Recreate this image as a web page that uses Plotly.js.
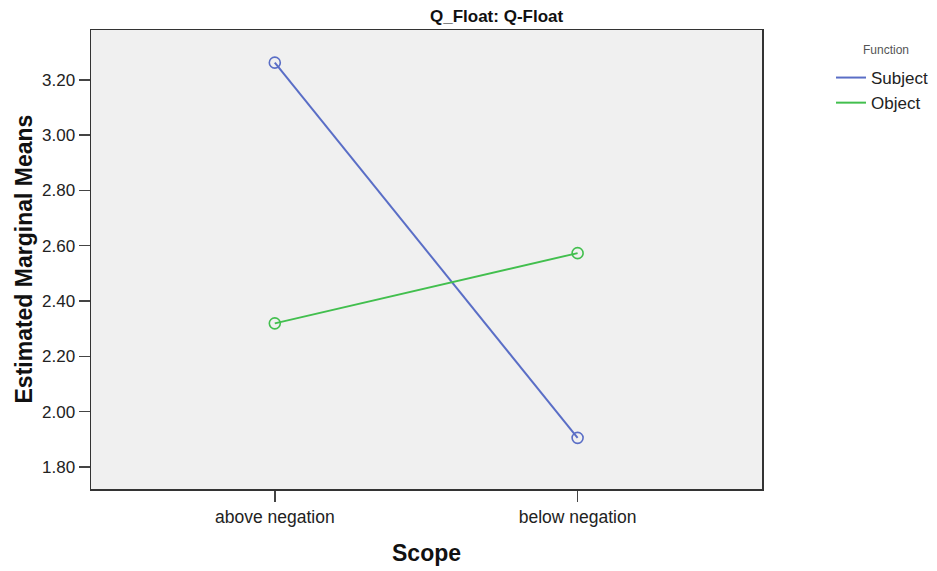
<!DOCTYPE html>
<html>
<head>
<meta charset="utf-8">
<script src="https://cdn.plot.ly/plotly-3.0.1.min.js"></script>
<style>html,body{margin:0;padding:0;background:#fff;}#chart{width:937px;height:571px;}</style>
</head>
<body>
<div id="chart"></div>
<script>
const categories = ['above negation', 'below negation'];
const subjectMeans = [3.262, 1.905];
const objectMeans = [2.319, 2.573];
const seriesNames = ['Subject', 'Object'];
const yTickVals = [1.8, 2.0, 2.2, 2.4, 2.6, 2.8, 3.0, 3.2];

const colors = ['#5a6ec6', '#42bf4e'];
const FONT = 'Liberation Sans, Arial, sans-serif';

const traces = [];
[subjectMeans, objectMeans].forEach((vals, i) => {
  traces.push({
    type: 'scatter', mode: 'lines', name: seriesNames[i],
    x: categories, y: vals,
    line: {color: colors[i], width: 2},
    legendgroup: seriesNames[i]
  });
});
[subjectMeans, objectMeans].forEach((vals, i) => {
  traces.push({
    type: 'scatter', mode: 'markers', name: seriesNames[i],
    x: categories, y: vals, showlegend: false,
    marker: {symbol: 'circle-open', size: 11, color: colors[i], line: {width: 1.6, color: colors[i]}},
    legendgroup: seriesNames[i]
  });
});

const layout = {
  width: 937, height: 571,
  margin: {l: 91, r: 175, t: 30, b: 82},
  paper_bgcolor: '#ffffff',
  plot_bgcolor: '#f0f0f0',
  font: {family: FONT, size: 17, color: '#222'},
  showlegend: true,
  legend: {
    xref: 'container', yref: 'container',
    x: 831 / 937, y: 1 - 60 / 571, xanchor: 'left', yanchor: 'top',
    bgcolor: 'rgba(0,0,0,0)',
    font: {family: FONT, size: 17, color: '#222'},
    tracegroupgap: 0,
    itemwidth: 30
  },
  xaxis: {
    type: 'category',
    range: [-0.607, 1.609],
    showgrid: false, zeroline: false,
    showline: true, mirror: true, linecolor: '#333', linewidth: 1.5,
    ticks: 'outside', ticklen: 11, tickwidth: 1.5, tickcolor: '#444',
    tickfont: {family: FONT, size: 17.5, color: '#222'}
  },
  yaxis: {
    range: [1.72, 3.38],
    tickvals: yTickVals,
    tickformat: '.2f',
    showgrid: false, zeroline: false,
    showline: true, mirror: true, linecolor: '#333', linewidth: 1.5,
    ticks: 'outside', ticklen: 11, tickwidth: 1.5, tickcolor: '#444',
    tickfont: {family: FONT, size: 17, color: '#222'}
  },
  annotations: [
    {text: '<b>Q_Float: Q-Float</b>', xref: 'paper', yref: 'paper',
     x: (497 - 91) / 671, y: 1, yshift: 14, showarrow: false,
     xanchor: 'center', yanchor: 'middle', font: {family: FONT, size: 17, color: '#111'}},
    {text: '<b>Estimated Marginal Means</b>', xref: 'paper', yref: 'paper',
     x: 0, xshift: -68, y: 0.5, textangle: -90, showarrow: false,
     xanchor: 'center', yanchor: 'middle', font: {family: FONT, size: 23, color: '#111'}},
    {text: '<b>Scope</b>', xref: 'paper', yref: 'paper',
     x: 0.5, y: 0, yshift: -64, showarrow: false,
     xanchor: 'center', yanchor: 'middle', font: {family: FONT, size: 23, color: '#111'}},
    {text: 'Function', xref: 'paper', yref: 'paper',
     x: 1, xshift: 886 - 762, y: 1, yshift: -20, showarrow: false,
     xanchor: 'center', yanchor: 'middle', font: {family: FONT, size: 12, color: '#555'}}
  ]
};

Plotly.newPlot('chart', traces, layout, {displayModeBar: false, staticPlot: true});
</script>
</body>
</html>
